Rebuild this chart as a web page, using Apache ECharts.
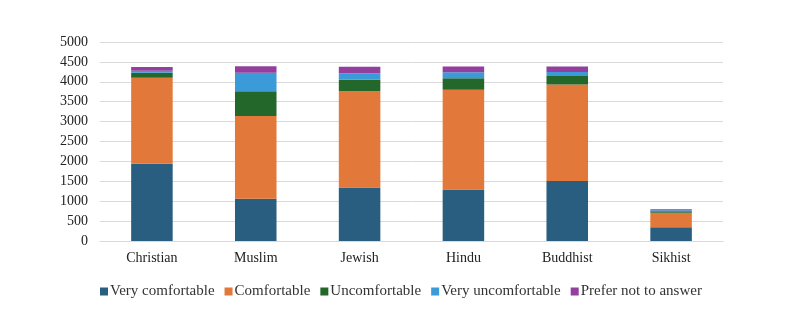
<!DOCTYPE html>
<html><head><meta charset="utf-8">
<script src="https://cdn.jsdelivr.net/npm/echarts@6/dist/echarts.min.js"></script>
<style>html,body{margin:0;padding:0;background:#fff}#c{width:808px;height:326px}</style>
</head><body><div id="c"></div>
<script>
var categories = ['Christian','Muslim','Jewish','Hindu','Buddhist','Sikhist'];
var veryComfortable = [1940, 1060, 1345, 1295, 1505, 345];
var comfortable = [2160, 2080, 2420, 2505, 2430, 365];
var uncomfortable = [125, 625, 285, 290, 210, 40];
var veryUncomfortable = [50, 460, 165, 150, 100, 25];
var preferNot = [100, 165, 165, 145, 140, 25];
var seriesNames = ['Very comfortable','Comfortable','Uncomfortable','Very uncomfortable','Prefer not to answer'];
var colors = ['#2a5e80','#e2793a','#23672b','#3b9ad8','#923f9e'];
var dataSets = [veryComfortable, comfortable, uncomfortable, veryUncomfortable, preferNot];
var font = 'Liberation Serif';
var chart = echarts.init(document.getElementById('c'));
chart.setOption({
  animation:false,
  grid:{left:100,right:85,top:42,bottom:85,containLabel:false},
  legend:{bottom:22,left:95,itemWidth:8,itemHeight:8,itemGap:10,icon:'rect',
    textStyle:{fontFamily:font,fontSize:15,color:'#333',padding:[0,0,0,-3]},data:seriesNames},
  xAxis:{type:'category',data:categories,axisTick:{show:false},
    axisLine:{lineStyle:{color:'#d9d9d9'}},
    axisLabel:{fontFamily:font,fontSize:14,color:'#222',margin:10}},
  yAxis:{type:'value',min:0,max:5000,interval:500,
    axisLabel:{fontFamily:font,fontSize:14,color:'#222',margin:12,formatter:function(v){return String(v);}},
    splitLine:{lineStyle:{color:'#d9d9d9'}},axisLine:{show:false},axisTick:{show:false}},
  series: dataSets.map(function(d,i){return {name:seriesNames[i],type:'bar',stack:'a',data:d,
    barWidth:'40%',itemStyle:{color:colors[i]}};})
});
</script></body></html>
